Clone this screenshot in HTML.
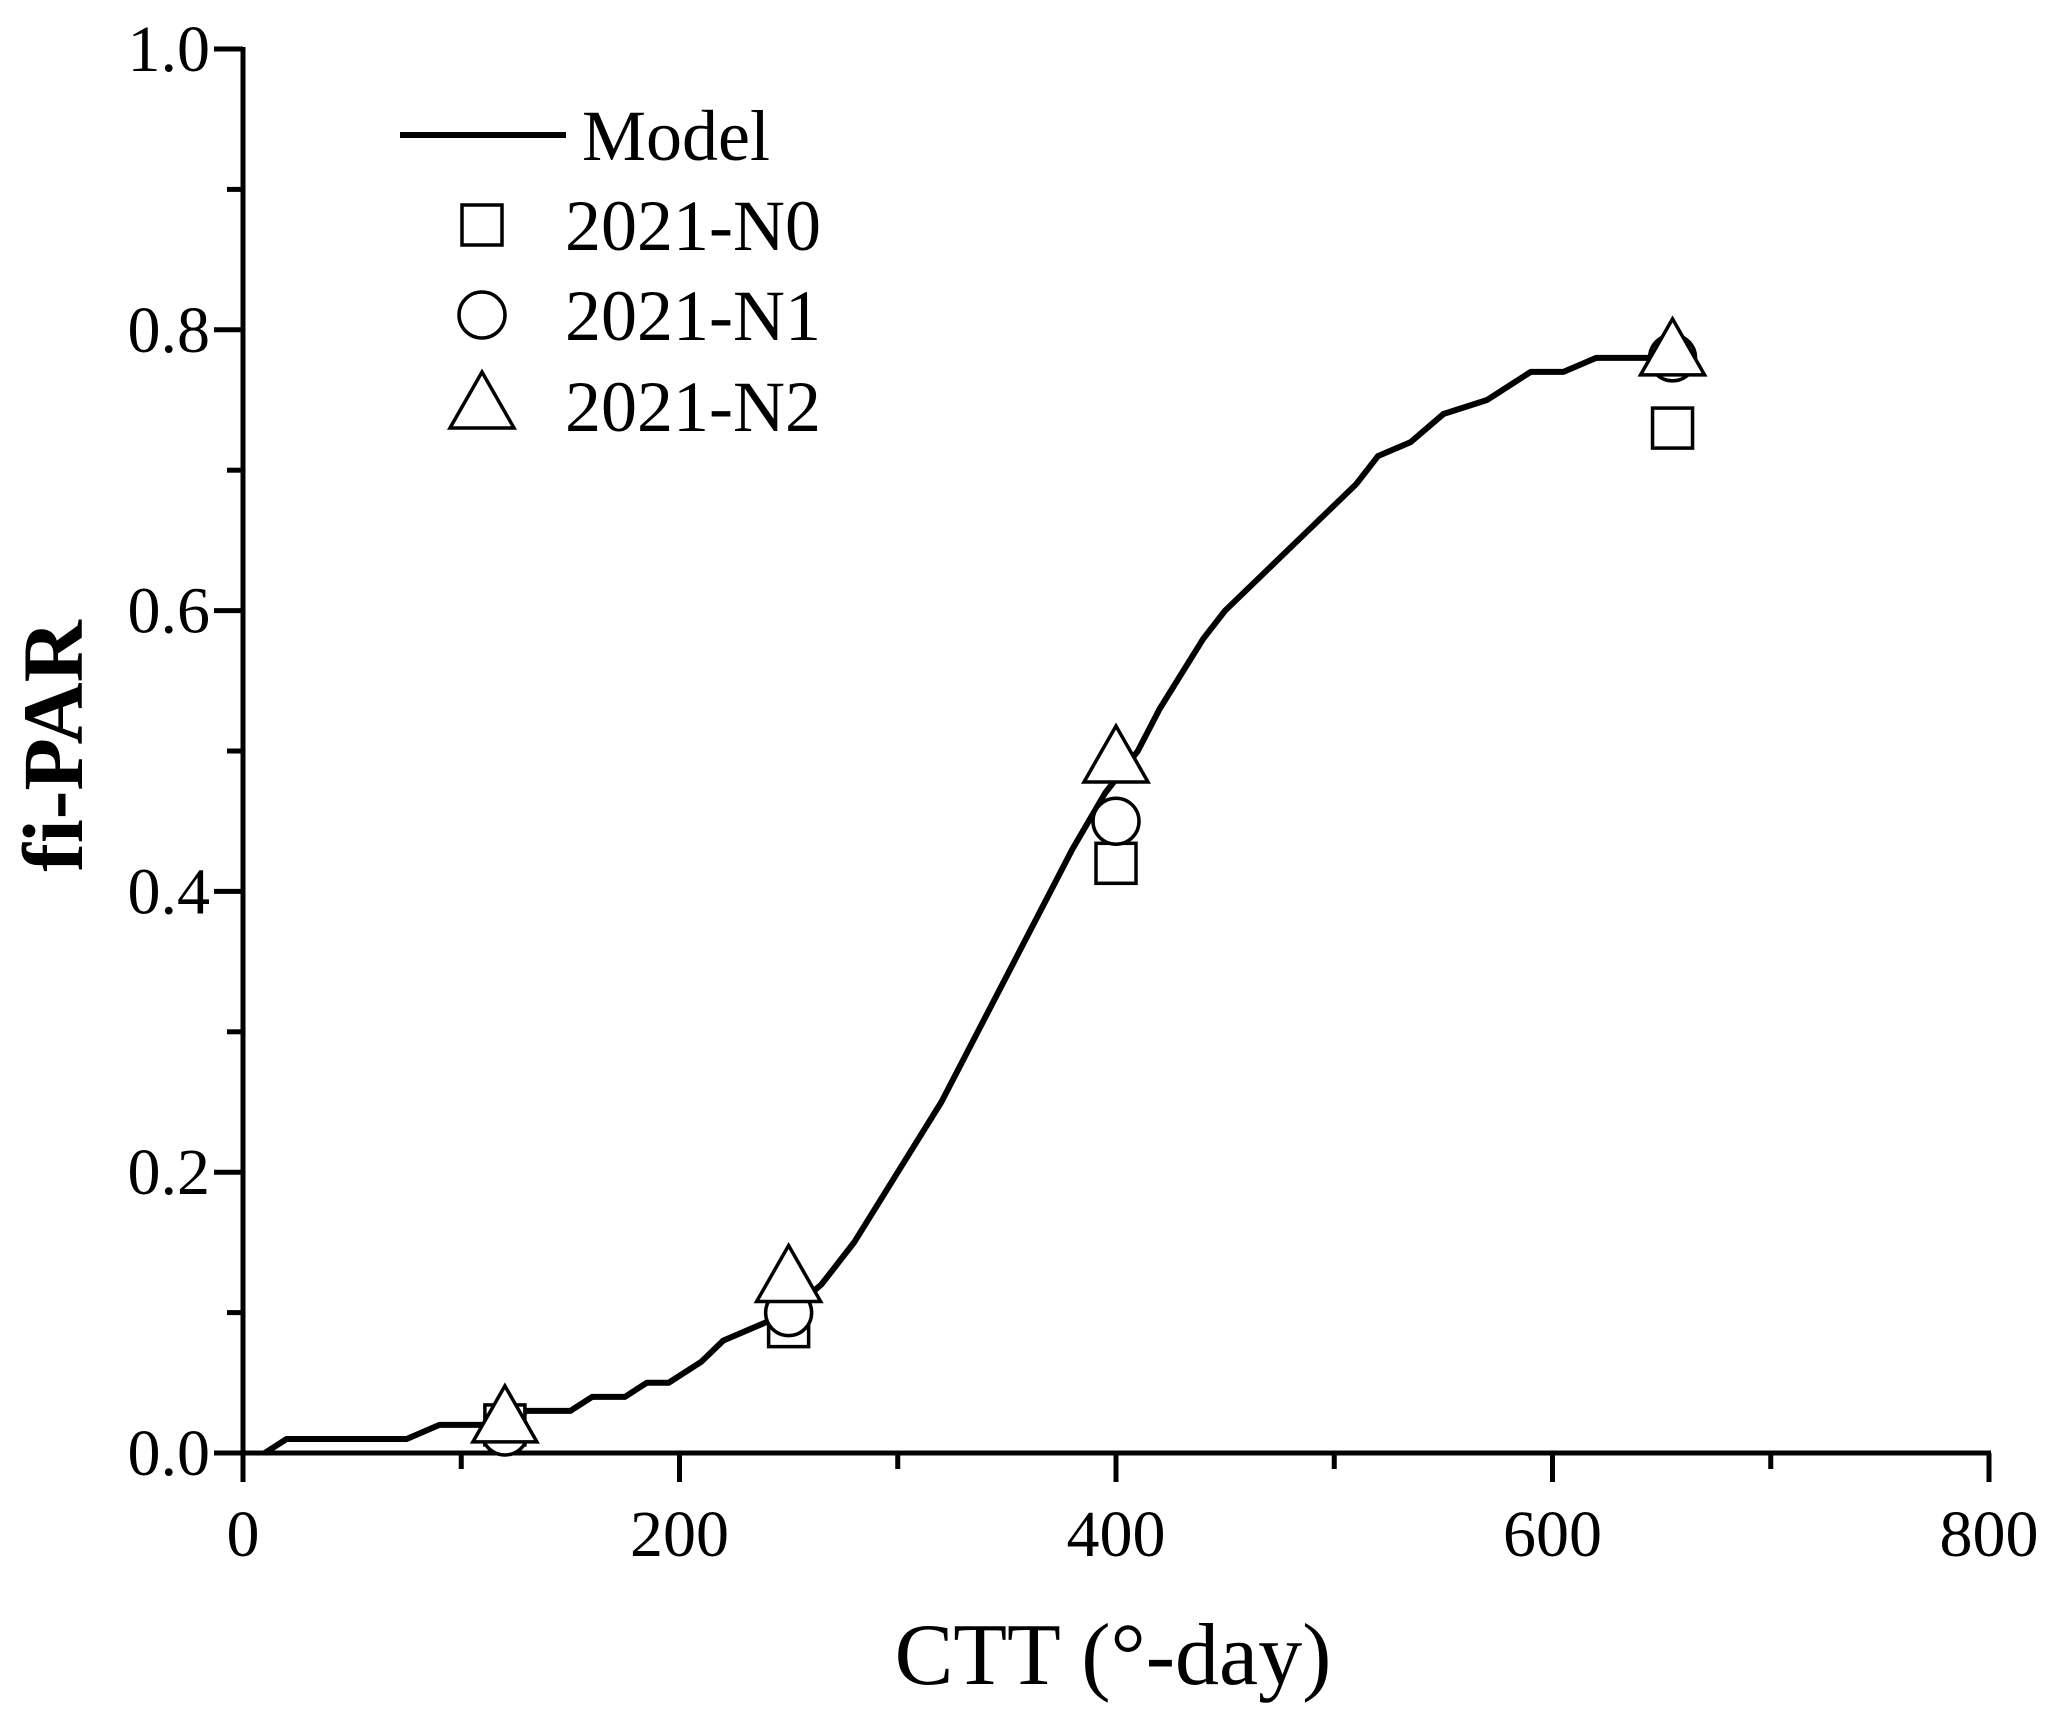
<!DOCTYPE html>
<html><head><meta charset="utf-8"><style>
html,body{margin:0;padding:0;background:#fff}
svg{display:block}
text{font-family:"Liberation Serif",serif;fill:#000}
</style></head><body>
<svg id="chart" width="2052" height="1722" viewBox="0 0 2052 1722"></svg>
<script>
const xTicks=[0,200,400,600,800];
const yTicks=[0.0,0.2,0.4,0.6,0.8,1.0];
const yTickLabels=["0.0","0.2","0.4","0.6","0.8","1.0"];
const modelX=[10,20,75,90,120,130,150,160,175,185,195,210,220,235,250,265,280,300,320,340,360,380,395,410,420,440,450,470,490,510,520,535,550,570,590,605,620,660];
const modelY=[0,0.01,0.01,0.02,0.02,0.03,0.03,0.04,0.04,0.05,0.05,0.065,0.08,0.09,0.1,0.12,0.15,0.2,0.25,0.31,0.37,0.43,0.47,0.5,0.53,0.58,0.6,0.63,0.66,0.69,0.71,0.72,0.74,0.75,0.77,0.77,0.78,0.78];
const obsX=[120,250,400,655];
const n0Y=[0.02,0.09,0.42,0.73];
const n1Y=[0.015,0.1,0.45,0.78];
const n2Y=[0.025,0.125,0.495,0.785];

const X0=243,X1=1989,Y0=1453,Y1=49;
const sx=v=>X0+(v-0)/(800-0)*(X1-X0);
const sy=v=>Y0-(v-0)/(1-0)*(Y0-Y1);
const svg=document.getElementById('chart');
const NS='http://www.w3.org/2000/svg';
function mk(t,a,p){const e=document.createElementNS(NS,t);for(const k in a)e.setAttribute(k,a[k]);(p||svg).appendChild(e);return e;}

let e=mk('line',{x1:X0,y1:Y0,x2:X1+2,y2:Y0,stroke:'#000','stroke-width':5});


e=mk('line',{x1:X0,y1:Y0+2,x2:X0,y2:Y1-2,stroke:'#000','stroke-width':5});



for(let v=0;v<=800;v+=100){
  const major=v%200===0;
  e=mk('line',{x1:sx(v),y1:Y0,x2:sx(v),y2:Y0+(major?29:16),stroke:'#000','stroke-width':5});
  
  
}
xTicks.forEach(v=>{
  e=mk('text',{x:sx(v),y:1556,'font-size':66,'text-anchor':'middle'});e.textContent=v;
  
  
});
for(let i=0;i<=10;i++){
  const v=i/10, major=i%2===0;
  e=mk('line',{x1:X0,y1:sy(v),x2:X0-(major?29:16),y2:sy(v),stroke:'#000','stroke-width':5});
  
  
}
yTicks.forEach((v,i)=>{
  e=mk('text',{x:210,y:sy(v)+22,'font-size':66,'text-anchor':'end'});e.textContent=yTickLabels[i];
  
  
});
e=mk('text',{x:1113,y:1684,'font-size':88,'text-anchor':'middle'});e.textContent='CTT (°-day)';


e=mk('text',{x:0,y:0,'font-size':86,'font-weight':'bold','text-anchor':'middle',transform:'translate(82,746) rotate(-90)'});e.textContent='fi-PAR';



e=mk('polyline',{points:modelX.map((x,i)=>sx(x)+','+sy(modelY[i])).join(' '),fill:'none',stroke:'#000','stroke-width':6,'stroke-linejoin':'round'});



function square(cx,cy){return mk('rect',{x:cx-20,y:cy-20,width:40,height:40,fill:'#fff',stroke:'#000','stroke-width':3.5});}
function circle(cx,cy){return mk('circle',{cx:cx,cy:cy,r:23,fill:'#fff',stroke:'#000','stroke-width':3.5});}
function tri(cx,cy){return mk('polygon',{points:`${cx},${cy-32} ${cx-32},${cy+24} ${cx+32},${cy+24}`,fill:'#fff',stroke:'#000','stroke-width':3.5});}

obsX.forEach((x,i)=>{e=square(sx(x),sy(n0Y[i]));
  
  });
obsX.forEach((x,i)=>{e=circle(sx(x),sy(n1Y[i]));
  
  });
obsX.forEach((x,i)=>{e=tri(sx(x),sy(n2Y[i]));
  
  });

e=mk('line',{x1:400,y1:135,x2:566,y2:135,stroke:'#000','stroke-width':6});


e=mk('text',{x:582,y:160,'font-size':72});e.textContent='Model';


e=square(482,225);


e=mk('text',{x:565,y:250,'font-size':72});e.textContent='2021-N0';


e=circle(482,315);


e=mk('text',{x:565,y:340,'font-size':72});e.textContent='2021-N1';


e=tri(482,404);


e=mk('text',{x:565,y:431,'font-size':72});e.textContent='2021-N2';


</script>
</body></html>
